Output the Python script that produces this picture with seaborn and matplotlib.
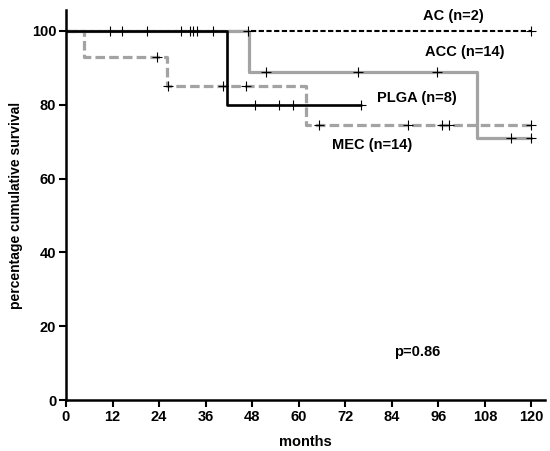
import matplotlib
matplotlib.use("Agg")
import matplotlib.pyplot as plt
import seaborn as sns

# step curves (months, % survival)
ac_t = [0, 120]
ac_s = [100, 100]
acc_t = [0, 47.1, 105.9, 119.8]
acc_s = [100, 88.9, 71.1, 71.1]
mec_t = [0, 4.7, 26.1, 61.9, 119.8]
mec_s = [100, 92.9, 85.1, 74.5, 74.5]
plga_t = [0, 41.5, 76.0]
plga_s = [100, 80, 80]

# censored observations
ac_ct = [47.0, 120]
ac_cs = [100, 100]
acc_ct = [14.5, 29.6, 32.8, 33.8, 37.8, 51.5, 75.4, 95.6, 114.6, 119.8]
acc_cs = [100, 100, 100, 100, 100, 88.9, 88.9, 88.9, 71.1, 71.1]
mec_ct = [23.5, 26.4, 40.6, 46.3, 65.2, 88.1, 97.0, 98.8, 119.8]
mec_cs = [92.9, 85.1, 85.1, 85.1, 74.5, 74.5, 74.5, 74.5, 74.5]
plga_ct = [11.3, 20.8, 32.0, 48.7, 55.0, 58.4, 76.0]
plga_cs = [100, 100, 100, 80, 80, 80, 80]

labels = ["AC (n=2)", "ACC (n=14)", "PLGA (n=8)", "MEC (n=14)"]
label_x = [99.8, 102.9, 90.5, 78.9]
label_y = [104.0, 94.3, 81.8, 69.1]

sns.set_style("ticks")
plt.rcParams['font.family'] = ['Liberation Sans', 'DejaVu Sans']
plt.rcParams['font.weight'] = 'bold'
for key in ['text.color', 'axes.labelcolor', 'xtick.color', 'ytick.color', 'axes.edgecolor']:
    plt.rcParams[key] = 'black'

fig = plt.figure(figsize=(5.5, 4.51), dpi=100)
ax = fig.add_axes([0.12, 0.113, 0.871, 0.865])

gray = '#a3a3a3'
sns.lineplot(x=ac_t, y=ac_s, ax=ax, color='black', lw=1.5, drawstyle='steps-post',
             linestyle=(0, (2.5, 1.2)), estimator=None, sort=False)
sns.lineplot(x=acc_t, y=acc_s, ax=ax, color=gray, lw=2.3, drawstyle='steps-post',
             estimator=None, sort=False)
sns.lineplot(x=mec_t, y=mec_s, ax=ax, color=gray, lw=2.3, drawstyle='steps-post',
             linestyle=(0, (3, 1.3)), estimator=None, sort=False)
sns.lineplot(x=plga_t, y=plga_s, ax=ax, color='black', lw=1.9, drawstyle='steps-post',
             estimator=None, sort=False)

for ct, cs in [(ac_ct, ac_cs), (acc_ct, acc_cs), (mec_ct, mec_cs), (plga_ct, plga_cs)]:
    sns.scatterplot(x=ct, y=cs, ax=ax, marker='+', color='black', s=50, linewidth=0.8, zorder=5)

for lab, lx, ly in zip(labels, label_x, label_y):
    ax.text(lx, ly, lab, ha='center', va='center', fontsize=10.5, fontweight='bold')
ax.text(90.5, 13, 'p=0.86', ha='center', va='center', fontsize=10.5, fontweight='bold')

ax.set_xlim(0, 123.5)
ax.set_ylim(0, 105.7)
ax.set_xticks(range(0, 121, 12))
ax.set_yticks(range(0, 101, 20))
ax.tick_params(direction='out', length=5, width=1.5, labelsize=10.5, pad=2)
for t in ax.get_xticklabels() + ax.get_yticklabels():
    t.set_fontweight('bold')
ax.set_xlabel('months', fontsize=10.5, fontweight='bold', labelpad=8)
ax.set_ylabel('percentage cumulative survival', fontsize=10, fontweight='bold', labelpad=6)
for sp in ['left', 'bottom']:
    ax.spines[sp].set_linewidth(1.8)
ax.spines['top'].set_visible(False)
ax.spines['right'].set_visible(False)

fig.savefig('out.png', dpi=100)
